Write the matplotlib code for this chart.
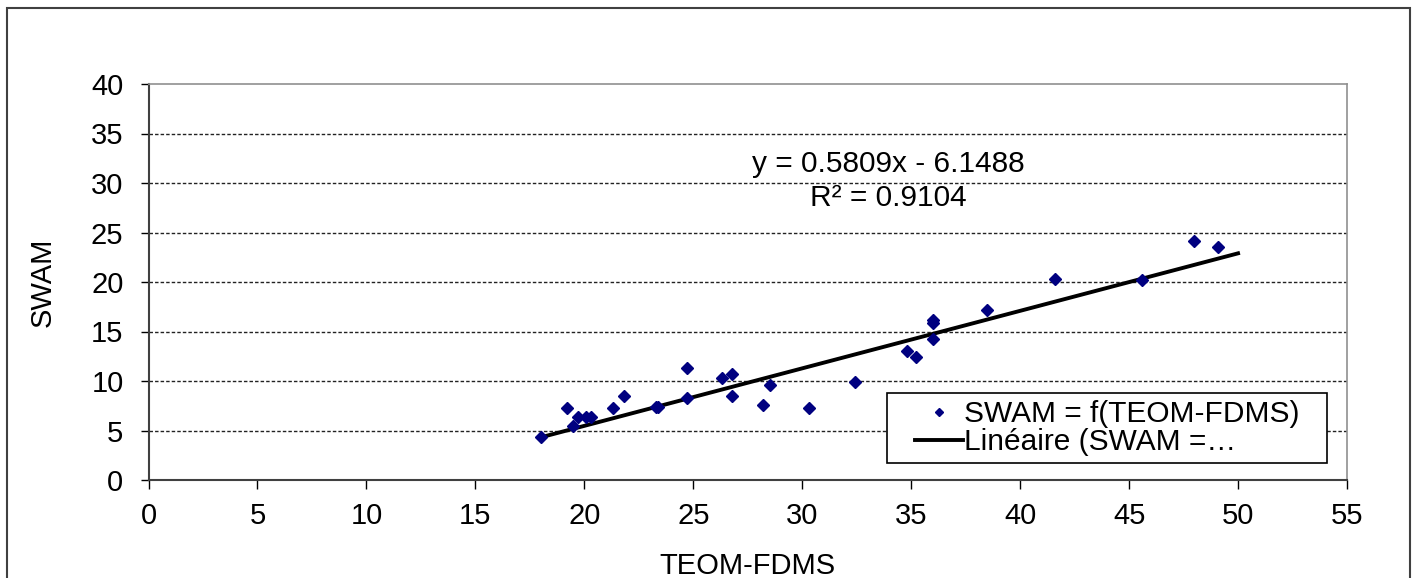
import matplotlib.pyplot as plt
from matplotlib.patches import Rectangle

plt.rcParams['font.family'] = ['Liberation Sans', 'DejaVu Sans']

# data
teom = [18.0, 19.2, 19.5, 19.7, 20.1, 20.3, 21.3, 21.8, 23.3, 23.4,
        24.7, 24.7, 26.3, 26.8, 26.8, 28.2, 28.5, 30.3, 32.4, 34.8,
        35.2, 36.0, 36.0, 36.0, 38.5, 41.6, 45.6, 48.0, 49.1]
swam = [4.3, 7.3, 5.5, 6.4, 6.4, 6.4, 7.3, 8.5, 7.4, 7.4,
        11.3, 8.3, 10.3, 10.7, 8.5, 7.6, 9.6, 7.3, 9.9, 13.0,
        12.4, 14.2, 15.9, 16.2, 17.2, 20.3, 20.2, 24.1, 23.5]

# Excel trendline
slope = 0.5809
intercept = -6.1488
r2 = 0.9104
trendX = [18.0, 50.0]
trendY = [slope * x + intercept for x in trendX]

xticks = list(range(0, 56, 5))
yticks = list(range(0, 41, 5))

fs = 21
fsText = 21.5
navy = '#000080'
W, H = 1418, 578

fig = plt.figure(figsize=(W / 100, H / 100), dpi=100)
ax = fig.add_axes([148.5 / W, 1 - 480 / H, 1198.5 / W, 396 / H])

# outer chart border
fig.patches.append(Rectangle((7 / W, -0.05), 1403 / W, 1.05 - 8 / H,
                             transform=fig.transFigure, fill=False,
                             edgecolor='#404040', linewidth=1.5))

for yv in yticks[1:-1]:
    ax.axhline(yv, color='#222222', linewidth=1.0, linestyle=(0, (2.5, 1.5)), zorder=1)

ax.plot(teom, swam, 'D', color=navy, markersize=6.5, linestyle='none',
        label='SWAM = f(TEOM-FDMS)', zorder=3)
ax.plot(trendX, trendY, '-', color='black', linewidth=2.8,
        label='Linéaire (SWAM =…', zorder=2)

ax.text(33.95, 30.2, 'y = %.4fx - %.4f\nR² = %.4f' % (slope, -intercept, r2),
        ha='center', va='center', multialignment='center', fontsize=fsText,
        linespacing=1.25)

ax.set_xlim(0, 55)
ax.set_ylim(0, 40)
ax.set_xticks(xticks)
ax.set_yticks(yticks)
ax.tick_params(axis='both', labelsize=fs, direction='out', colors='black')
ax.tick_params(axis='x', length=6.5, width=1, pad=9)
ax.tick_params(axis='y', length=6, width=1, pad=12)

for side in ['left', 'bottom']:
    ax.spines[side].set_color('#404040')
    ax.spines[side].set_linewidth(1.5)
for side in ['top', 'right']:
    ax.spines[side].set_color('#909090')
    ax.spines[side].set_linewidth(1.2)

ax.set_xlabel('TEOM-FDMS', fontsize=fs, labelpad=16)
ax.set_ylabel('SWAM', fontsize=fs, labelpad=25)

# legend box drawn separately (Excel style padding), entries on top
ax.add_patch(Rectangle((887 / W, 1 - 463 / H), 440 / W, 70 / H,
                       transform=fig.transFigure, facecolor='white',
                       edgecolor='black', linewidth=1.2, zorder=4, clip_on=False))
leg = ax.legend(loc='center left', bbox_to_anchor=(915 / W, 1 - 428 / H),
                bbox_transform=fig.transFigure, borderaxespad=0, fontsize=fsText,
                frameon=False, markerscale=0.7, handlelength=1.6,
                handletextpad=0.05, labelspacing=0.0, borderpad=0)
leg.set_zorder(5)

plt.savefig('out.png', dpi=100)
